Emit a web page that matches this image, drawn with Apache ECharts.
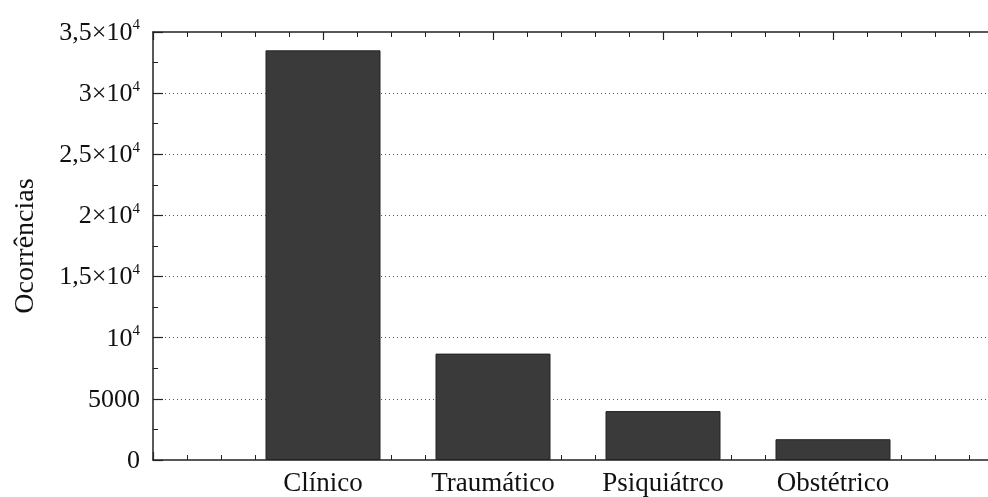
<!DOCTYPE html>
<html>
<head>
<meta charset="utf-8">
<script src="https://cdn.jsdelivr.net/npm/echarts@6/dist/echarts.min.js"></script>
<style>
  html, body { margin: 0; padding: 0; background: #fff; }
  #chart { width: 988px; height: 497px; }
</style>
</head>
<body>
<div id="chart"></div>
<script>
const categories = ["Clínico", "Traumático", "Psiquiátrco", "Obstétrico"];
const positions = [1, 2, 3, 4];
const occurrences = [33500, 8700, 4000, 1700];
const yTicks = [0, 5000, 10000, 15000, 20000, 25000, 30000, 35000];

const serif = "Liberation Serif";
const axisColor = "#222";

function yLabel(value) {
  if (value === 0) return "{b|0}";
  if (value === 5000) return "{b|5000}";
  const mant = value / 10000;
  if (mant === 1) return "{b|10}{s|4}";
  return "{b|" + String(mant).replace(".", ",") + "×10}{s|4}";
}

const chart = echarts.init(document.getElementById("chart"));

const xBase = {
  type: "value",
  min: 0,
  max: 5,
  interval: 1,
  axisLine: { show: true, onZero: false, lineStyle: { color: axisColor, width: 1.5 } },
  axisTick: { show: true, inside: true, length: 8, lineStyle: { color: axisColor, width: 1.2 } },
  minorTick: { show: true, splitNumber: 5, length: 5, lineStyle: { color: axisColor, width: 1 } },
  splitLine: { show: false },
};

chart.setOption({
  animation: false,
  grid: { left: 153, top: 32, width: 850, height: 428, containLabel: false, outerBoundsMode: "none" },
  xAxis: [
    Object.assign({}, xBase, {
      position: "bottom",
      axisLabel: {
        show: true,
        margin: 10,
        color: "#111",
        fontFamily: serif,
        fontSize: 27,
        formatter: (v) => categories[positions.indexOf(v)] || "",
      },
    }),
    Object.assign({}, xBase, {
      position: "top",
      axisLabel: { show: false },
    }),
  ],
  yAxis: {
    type: "value",
    min: yTicks[0],
    max: yTicks[yTicks.length - 1],
    interval: 5000,
    name: "Ocorrências",
    nameLocation: "middle",
    nameGap: 113,
    nameTextStyle: { color: "#111", fontFamily: serif, fontSize: 28 },
    axisLine: { show: true, lineStyle: { color: axisColor, width: 1.5 } },
    axisTick: { show: true, inside: true, length: 10, lineStyle: { color: axisColor, width: 1.2 } },
    minorTick: { show: true, splitNumber: 2, length: 5, lineStyle: { color: axisColor, width: 1 } },
    splitLine: {
      show: true,
      showMaxLine: false,
      showMinLine: false,
      lineStyle: { color: "#555", type: [1, 3], width: 1 },
    },
    axisLabel: {
      margin: 13,
      color: "#111",
      fontFamily: serif,
      fontSize: 26,
      formatter: yLabel,
      rich: {
        b: { fontFamily: serif, fontSize: 26, color: "#111", lineHeight: 28, verticalAlign: "bottom" },
        s: { fontFamily: serif, fontSize: 15, color: "#111", lineHeight: 28, verticalAlign: "top" },
      },
    },
  },
  series: [
    {
      type: "bar",
      xAxisIndex: 0,
      barWidth: 115,
      itemStyle: { color: "#3a3a3a", borderColor: "#222", borderWidth: 1 },
      data: positions.map((p, i) => [p, occurrences[i]]),
    },
  ],
});
</script>
</body>
</html>
